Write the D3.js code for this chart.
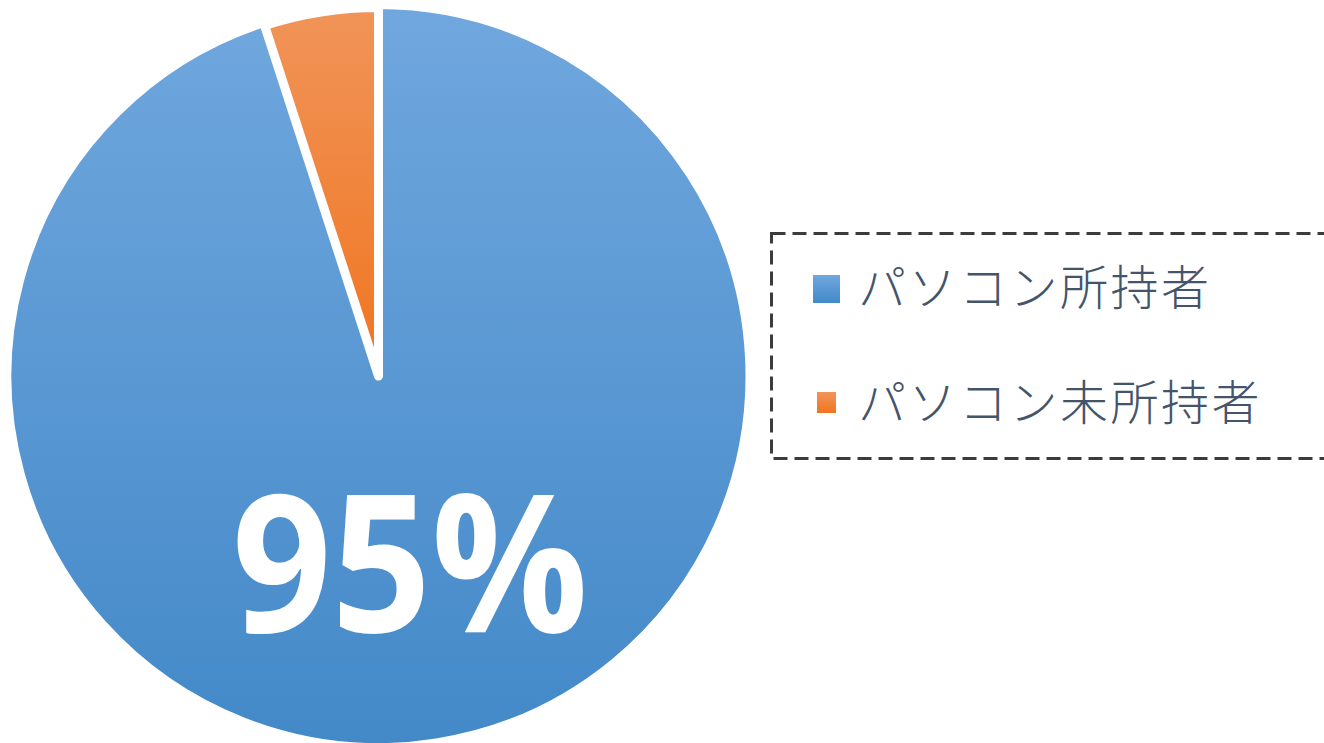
<!DOCTYPE html>
<html>
<head>
<meta charset="utf-8">
<script src="https://cdn.jsdelivr.net/npm/d3@7"></script>
<style>
  body { margin: 0; background: #fff; overflow: hidden; }
</style>
</head>
<body>
<svg id="chart" width="1324" height="743"></svg>
<script>
// chart data
const categories = ["パソコン所持者", "パソコン未所持者"];
const shares = [95, 5];
const labelText = ["95%", null];

const topColors = ["#70a7de", "#f19459"];
const bottomColors = ["#4389c8", "#f07520"];

const svg = d3.select("#chart");
const cx = 378.5, cy = 376, radius = 368.5;

const defs = svg.append("defs");
categories.forEach(function(c, i) {
  const grad = defs.append("linearGradient")
    .attr("id", "grad-" + i)
    .attr("x1", 0).attr("y1", 0).attr("x2", 0).attr("y2", 1);
  grad.append("stop").attr("offset", "0%").attr("stop-color", topColors[i]);
  grad.append("stop").attr("offset", "100%").attr("stop-color", bottomColors[i]);
});

const pie = d3.pie().sort(null).value(function(d) { return d; });
const arcs = pie(shares);

const arc = d3.arc().innerRadius(0).outerRadius(radius);

const g = svg.append("g").attr("transform", "translate(" + cx + "," + cy + ")");

g.selectAll("path.slice")
  .data(arcs)
  .enter().append("path")
  .attr("class", "slice")
  .attr("d", arc)
  .attr("fill", function(d, i) { return "url(#grad-" + i + ")"; })
  .attr("stroke", "#fff")
  .attr("stroke-linejoin", "round")
  .attr("stroke-width", function(d, i) { return i === 1 ? 9 : 3; });

// big percentage label on the main slice
g.append("text")
  .attr("x", 410 - cx)
  .attr("y", 632 - cy)
  .attr("text-anchor", "middle")
  .attr("fill", "#fff")
  .attr("font-family", "'Open Sans', 'DejaVu Sans', sans-serif")
  .attr("font-weight", 700)
  .attr("font-size", 192)
  .attr("textLength", 356)
  .attr("lengthAdjust", "spacingAndGlyphs")
  .text(labelText[0]);

// legend
const legend = svg.append("g");
legend.append("rect")
  .attr("x", 771.5).attr("y", 233.5)
  .attr("width", 620).attr("height", 225)
  .attr("fill", "none")
  .attr("stroke", "#3c3c3c")
  .attr("stroke-width", 3)
  .attr("stroke-dasharray", "14,7");

const swatch = [
  {x: 813, y: 275, w: 27, h: 28},
  {x: 817, y: 392, w: 19, h: 21}
];
const baselines = [305, 420];

const items = legend.selectAll("g.item")
  .data(categories)
  .enter().append("g")
  .attr("class", "item");

items.append("rect")
  .attr("x", function(d, i) { return swatch[i].x; })
  .attr("y", function(d, i) { return swatch[i].y; })
  .attr("width", function(d, i) { return swatch[i].w; })
  .attr("height", function(d, i) { return swatch[i].h; })
  .attr("fill", function(d, i) { return "url(#grad-" + i + ")"; });

items.append("text")
  .attr("x", 858)
  .attr("y", function(d, i) { return baselines[i]; })
  .attr("fill", "#44546a")
  .attr("font-family", "'Noto Sans CJK JP', sans-serif")
  .attr("font-weight", 300)
  .attr("font-size", 48)
  .attr("letter-spacing", 2.5)
  .text(function(d) { return d; });
</script>
</body>
</html>
